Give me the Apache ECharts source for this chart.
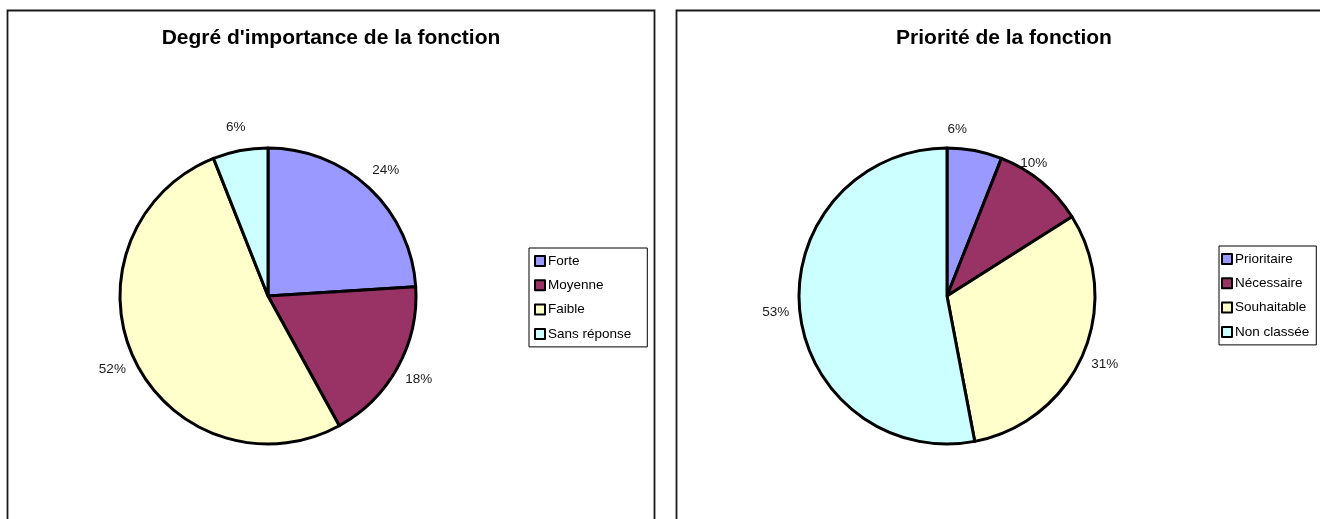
<!DOCTYPE html>
<html>
<head>
<meta charset="utf-8">
<script src="https://cdn.jsdelivr.net/npm/echarts@6/dist/echarts.min.js"></script>
<style>
  html, body { margin: 0; padding: 0; background: #fff; }
  #chart { width: 1320px; height: 519px; }
</style>
</head>
<body>
<div id="chart"></div>
<script>
// Survey results: importance and priority of the function
const importanceCategories = ['Forte', 'Moyenne', 'Faible', 'Sans réponse'];
const importanceValues = [24, 18, 52, 6];
const priorityCategories = ['Prioritaire', 'Nécessaire', 'Souhaitable', 'Non classée'];
const priorityValues = [6, 10, 31, 53];
const sliceColors = ['#9999ff', '#993366', '#ffffcc', '#ccffff'];

const FONT = "'Liberation Sans', Arial, Helvetica, sans-serif";

// small nudges for crowded percentage labels
const labelNudge = { 'Prioritaire': [-22, 2], 'Nécessaire': [-23, 0] };

function slices(names, values) {
  return names.map((n, i) => ({
    name: n,
    value: values[i],
    itemStyle: { color: sliceColors[i] }
  }));
}

function labelRing(names, values) {
  return names.map((n, i) => ({
    name: n,
    value: values[i],
    label: labelNudge[n] ? { offset: labelNudge[n] } : {}
  }));
}

function pieSeries(names, values, center) {
  return {
    type: 'pie',
    center: center,
    radius: 148,
    startAngle: 90,
    clockwise: true,
    silent: true,
    label: { show: false },
    labelLine: { show: false },
    itemStyle: { borderColor: '#000', borderWidth: 3 },
    emphasis: { disabled: true },
    data: slices(names, values)
  };
}

// transparent ring that carries the percentage labels around the pie
function labelSeries(names, values, center) {
  return {
    type: 'pie',
    center: center,
    radius: [145, 193],
    startAngle: 90,
    clockwise: true,
    silent: true,
    itemStyle: { color: 'rgba(0,0,0,0)', borderWidth: 0 },
    labelLine: { show: false },
    emphasis: { disabled: true },
    label: {
      show: true,
      position: 'inside',
      formatter: p => p.value + '%',
      fontFamily: FONT,
      fontSize: 13.5,
      color: '#1a1a1a'
    },
    data: labelRing(names, values)
  };
}

function legendBox(names, left, top, padding) {
  return {
    data: names,
    orient: 'vertical',
    left: left,
    top: top,
    padding: padding,
    itemGap: 10.3,
    itemWidth: 10,
    itemHeight: 10,
    icon: 'rect',
    selectedMode: false,
    borderColor: '#000',
    borderWidth: 1,
    borderRadius: 0,
    backgroundColor: '#fff',
    itemStyle: { borderColor: '#000', borderWidth: 2 },
    textStyle: { fontFamily: FONT, fontSize: 13.5, lineHeight: 14, color: '#000', padding: [0, 0, 0, -2] }
  };
}

const chart = echarts.init(document.getElementById('chart'), null, { renderer: 'canvas' });

chart.setOption({
  backgroundColor: '#fff',
  animation: false,
  title: [
    {
      text: "Degré d'importance de la fonction",
      left: 331, top: 28, padding: 0, textAlign: 'center',
      textStyle: { fontFamily: FONT, fontSize: 21, fontWeight: 'bold', color: '#000' }
    },
    {
      text: 'Priorité de la fonction',
      left: 1004, top: 28, padding: 0, textAlign: 'center',
      textStyle: { fontFamily: FONT, fontSize: 21, fontWeight: 'bold', color: '#000' }
    }
  ],
  legend: [
    legendBox(importanceCategories, 529, 248, [6, 16, 6, 5]),
    legendBox(priorityCategories, 1219, 246, [6, 7, 6, 2])
  ],
  graphic: [
    {
      type: 'rect', silent: true, z: -10,
      shape: { x: 7.5, y: 10.5, width: 647, height: 540 },
      style: { fill: 'none', stroke: '#1a1a1a', lineWidth: 1.8 }
    },
    {
      type: 'rect', silent: true, z: -10,
      shape: { x: 676.5, y: 10.5, width: 660, height: 540 },
      style: { fill: 'none', stroke: '#1a1a1a', lineWidth: 1.8 }
    }
  ],
  series: [
    pieSeries(importanceCategories, importanceValues, [268, 296]),
    pieSeries(priorityCategories, priorityValues, [947, 296]),
    labelSeries(importanceCategories, importanceValues, [268, 296]),
    labelSeries(priorityCategories, priorityValues, [947, 296])
  ]
});
</script>
</body>
</html>
